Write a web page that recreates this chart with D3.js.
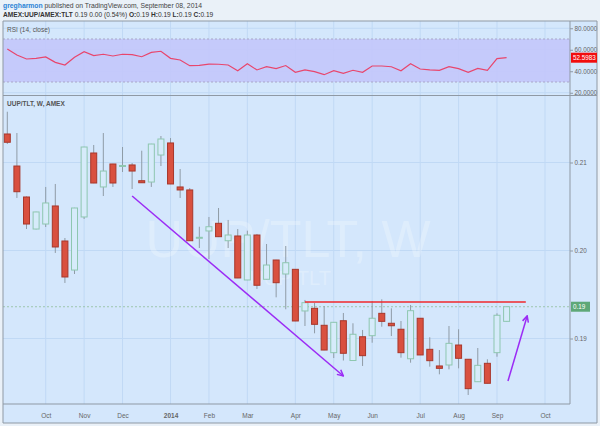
<!DOCTYPE html>
<html><head><meta charset="utf-8">
<script src="https://cdn.jsdelivr.net/npm/d3@7"></script>
<style>body{margin:0;background:#eaf1f8;} svg{display:block;font-family:"Liberation Sans",Arial,sans-serif;}</style>
</head><body><svg id="c" width="600" height="426"></svg>
<script>
// ---- data ----
const dates = ["2013-09-09","2013-09-16","2013-09-23","2013-09-30","2013-10-07","2013-10-14","2013-10-21","2013-10-28",
"2013-11-04","2013-11-11","2013-11-18","2013-11-25","2013-12-02","2013-12-09","2013-12-16","2013-12-23","2013-12-30",
"2014-01-06","2014-01-13","2014-01-20","2014-01-27","2014-02-03","2014-02-10","2014-02-17","2014-02-24",
"2014-03-03","2014-03-10","2014-03-17","2014-03-24","2014-03-31","2014-04-07","2014-04-14","2014-04-21","2014-04-28",
"2014-05-05","2014-05-12","2014-05-19","2014-05-26","2014-06-02","2014-06-09","2014-06-16","2014-06-23","2014-06-30",
"2014-07-07","2014-07-14","2014-07-21","2014-07-28","2014-08-04","2014-08-11","2014-08-18","2014-08-25","2014-09-01","2014-09-08"];
const open  = [0.21324,0.20960,0.20608,0.20244,0.20301,0.20506,0.20108,0.19778,0.20381,0.21108,0.20722,0.20983,0.20960,0.20972,0.20793,0.20778,0.21085,
0.21222,0.20722,0.20688,0.20145,0.20222,0.20309,0.20111,0.20165,0.19665,0.20176,0.19673,0.19892,0.19733,0.19786,0.19313,0.19343,0.19150,
0.18839,0.19202,0.18750,0.19020,0.19032,0.19286,0.19173,0.19105,0.18770,0.19230,0.18877,0.18688,0.18699,0.18926,0.18764,0.18509,0.18718,0.18839,0.19195];
const high  = [0.21577,0.21335,0.20615,0.20440,0.20722,0.20756,0.20142,0.20485,0.21178,0.21199,0.21335,0.20985,0.21176,0.20994,0.21134,0.21212,0.21301,
0.21278,0.20926,0.20710,0.20270,0.20381,0.20483,0.20347,0.20244,0.20225,0.20188,0.20074,0.19894,0.20051,0.19788,0.19438,0.19403,0.19369,
0.19186,0.19290,0.19173,0.19097,0.19426,0.19445,0.19343,0.19199,0.19381,0.19232,0.19014,0.18869,0.19142,0.19105,0.18766,0.18892,0.18764,0.19286,0.19363];
const low   = [0.21210,0.20597,0.20244,0.20240,0.20267,0.19972,0.19631,0.19733,0.20358,0.20765,0.20619,0.20722,0.20892,0.20699,0.20768,0.20722,0.20960,
0.20754,0.20597,0.20110,0.20028,0.19903,0.20153,0.20028,0.19686,0.19663,0.19563,0.19671,0.19468,0.19332,0.19197,0.19142,0.19059,0.18867,
0.18778,0.18750,0.18748,0.18688,0.18952,0.19134,0.19028,0.18782,0.18725,0.18811,0.18680,0.18593,0.18650,0.18661,0.18358,0.18507,0.18489,0.18793,0.19193];
const close = [0.21230,0.20668,0.20301,0.20438,0.20540,0.20040,0.19699,0.20483,0.21176,0.20767,0.20903,0.20767,0.20966,0.20903,0.20770,0.21210,0.21267,
0.20756,0.20688,0.20111,0.20150,0.20270,0.20157,0.20176,0.19688,0.20176,0.19605,0.19835,0.19634,0.19861,0.19199,0.19407,0.19161,0.18869,
0.19184,0.18832,0.19048,0.18805,0.19230,0.19195,0.19145,0.18839,0.19316,0.18813,0.18748,0.18661,0.18945,0.18775,0.18430,0.18695,0.18491,0.19264,0.19361];
const rsi   = [60.7,55.1,51.4,52.0,53.3,48.3,45.8,53.0,58.2,54.5,55.8,54.2,55.8,55.4,53.5,57.6,58.6,
52.0,50.5,45.2,45.5,46.7,46.5,45.8,40.5,47.0,41.2,44.2,42.4,45.3,39.0,41.2,39.6,36.8,
40.5,38.1,40.9,39.0,44.9,44.9,44.2,40.5,47.0,42.1,41.2,40.9,44.2,42.4,39.0,42.7,40.9,51.7,52.6];
const monthTickDates = ["2013-10-07","2013-11-04","2013-12-02","2014-01-06","2014-02-03","2014-03-03","2014-04-07","2014-05-05","2014-06-02","2014-07-07","2014-08-04","2014-09-01","2014-10-06"];
const monthTickLabels = ["Oct","Nov","Dec","2014","Feb","Mar","Apr","May","Jun","Jul","Aug","Sep","Oct"];
const priceTicks = [0.19,0.20,0.21];
const rsiTicks = [20,40,60,80];
const rsiBand = [30,70];
const lastPrice = 0.19361, lastRsiLabel = "52.5983";
const resistance = {from:"2014-04-14", to:"2014-09-22", value:0.19415};
const arrows = [
  {from:["2013-12-09",0.20619], to:["2014-05-12",0.18574]},
  {from:["2014-09-09",0.18517], to:["2014-09-23",0.19256]}
];

// ---- layout ----
const svg = d3.select("#c");
const L=3, R=597, AX=570;
const rsiTop=21, rsiBot=95.5, mainTop=96, mainBot=404, bottom=423;
const panelBg="#d4e7fc", gridC="#c0d9f5", axisC="#8f99a4", textC="#666";
const parse = d3.utcParse("%Y-%m-%d");
const bars = dates.map((d,i)=>({date:parse(d),o:open[i],h:high[i],l:low[i],c:close[i],r:rsi[i]}));

const x = d3.scaleUtc().domain([parse("2013-09-09"),parse("2014-10-06")]).range([7.3,545]);
const y = d3.scaleLinear().domain([0.19,0.21]).range([338.5,162.5]);
const yr = d3.scaleLinear().domain([30,70]).range([82,39]);

svg.append("rect").attr("x",L).attr("y",rsiTop).attr("width",R-L).attr("height",bottom-rsiTop).attr("fill",panelBg);

const defs=svg.append("defs");
defs.append("clipPath").attr("id","mainClip").append("rect").attr("x",L).attr("y",mainTop).attr("width",AX-L).attr("height",mainBot-mainTop);
defs.append("clipPath").attr("id","rsiClip").append("rect").attr("x",L).attr("y",rsiTop).attr("width",AX-L).attr("height",rsiBot-rsiTop);
defs.append("marker").attr("id","ah").attr("viewBox","0 0 10 10").attr("refX",9).attr("refY",5)
  .attr("markerWidth",5).attr("markerHeight",5).attr("orient","auto")
  .append("path").attr("d","M1,1 L9,5 L1,9").attr("fill","none").attr("stroke","#9b2cf5").attr("stroke-width",2);

const tickDates = monthTickDates.map(parse);
const vg = svg.append("g");
tickDates.forEach(d=>{
  vg.append("line").attr("x1",x(d)).attr("x2",x(d)).attr("y1",rsiTop).attr("y2",mainBot).attr("stroke",gridC).attr("stroke-width",1);
});

// RSI panel
const rg = svg.append("g").attr("clip-path","url(#rsiClip)");
rsiTicks.forEach(t=>rg.append("line").attr("x1",L).attr("x2",AX).attr("y1",yr(t)).attr("y2",yr(t)).attr("stroke",gridC));
rg.append("rect").attr("x",L).attr("width",AX-L).attr("y",yr(rsiBand[1])).attr("height",yr(rsiBand[0])-yr(rsiBand[1]))
  .attr("fill","#c3c6fb").attr("opacity",0.9);
rsiBand.forEach(b=>rg.append("line").attr("x1",L).attr("x2",AX).attr("y1",yr(b)).attr("y2",yr(b))
  .attr("stroke","#a9a7c8").attr("stroke-dasharray","2,2"));
rg.append("path").datum(bars).attr("fill","none").attr("stroke","#e8466d").attr("stroke-width",1.2)
  .attr("d",d3.line().x(d=>x(d.date)).y(d=>yr(d.r)));
svg.append("text").attr("x",7).attr("y",32).attr("font-size",6.5).attr("fill","#555").text("RSI (14, close)");

// main panel
const mg = svg.append("g").attr("clip-path","url(#mainClip)");
priceTicks.forEach(t=>mg.append("line").attr("x1",L).attr("x2",AX).attr("y1",y(t)).attr("y2",y(t)).attr("stroke",gridC));
mg.append("text").attr("x",288).attr("y",257).attr("text-anchor","middle").attr("font-size",52)
  .attr("fill","#ffffff").attr("opacity",0.25).text("UUP/TLT, W");
mg.append("text").attr("x",290).attr("y",285).attr("text-anchor","middle").attr("font-size",20)
  .attr("fill","#ffffff").attr("opacity",0.25).text("UUP/TLT");
mg.append("line").attr("x1",L).attr("x2",AX).attr("y1",y(lastPrice)).attr("y2",y(lastPrice))
  .attr("stroke","#8fbf9c").attr("stroke-dasharray","2,2").attr("stroke-width",0.8);
const cg = mg.append("g");
cg.selectAll("line.w").data(bars).join("line").attr("class","w")
  .attr("x1",d=>x(d.date)).attr("x2",d=>x(d.date)).attr("y1",d=>y(d.h)).attr("y2",d=>y(d.l))
  .attr("stroke","#8f9ba6").attr("stroke-width",1);
cg.selectAll("rect.b").data(bars).join("rect").attr("class","b")
  .attr("x",d=>x(d.date)-3).attr("width",6)
  .attr("y",d=>y(Math.max(d.o,d.c)))
  .attr("height",d=>Math.max(1,Math.abs(y(d.o)-y(d.c))))
  .attr("fill",d=>d.c>=d.o?"#d6ebfa":"#d9503f")
  .attr("stroke",d=>d.c>=d.o?"#8ec7b0":"#a8372b").attr("stroke-width",1);
mg.append("line").attr("x1",x(parse(resistance.from))).attr("x2",x(parse(resistance.to)))
  .attr("y1",y(resistance.value)).attr("y2",y(resistance.value)).attr("stroke","#f0282d").attr("stroke-width",1.5);
arrows.forEach(a=>{
  mg.append("line").attr("x1",x(parse(a.from[0]))).attr("y1",y(a.from[1]))
    .attr("x2",x(parse(a.to[0]))).attr("y2",y(a.to[1]))
    .attr("stroke","#9b2cf5").attr("stroke-width",1.5).attr("marker-end","url(#ah)");
});
svg.append("text").attr("x",7).attr("y",106).attr("font-size",6.5).attr("fill","#555").attr("font-weight","bold").text("UUP/TLT, W, AMEX");

// axes
const pa = svg.append("g").attr("transform",`translate(${AX},0)`)
  .call(d3.axisRight(y).tickValues(priceTicks).tickFormat(d3.format(".2f")).tickSize(3).tickPadding(1.5));
const ra = svg.append("g").attr("transform",`translate(${AX},0)`)
  .call(d3.axisRight(yr).tickValues(rsiTicks).tickFormat(d3.format(".4f")).tickSize(3).tickPadding(1.5));
[pa,ra].forEach(g=>{
  g.select(".domain").remove();
  g.selectAll("line").attr("stroke",axisC);
  g.selectAll("text").attr("fill",textC).attr("font-size",6.3).attr("font-family","Liberation Sans, Arial, sans-serif");
});
const xa = svg.append("g").attr("transform",`translate(0,${mainBot})`)
  .call(d3.axisBottom(x).tickValues(tickDates).tickFormat((d,i)=>monthTickLabels[i]).tickSize(0).tickPadding(9));
xa.select(".domain").remove();
xa.selectAll("text").attr("fill",textC).attr("font-size",6.5).attr("font-family","Liberation Sans, Arial, sans-serif")
  .attr("font-weight",(d,i)=>monthTickLabels[i]==="2014"?"bold":"normal");

const fl=(x1,y1,x2,y2)=>svg.append("line").attr("x1",x1).attr("y1",y1).attr("x2",x2).attr("y2",y2).attr("stroke",axisC).attr("stroke-width",1);
fl(L,rsiTop,R,rsiTop); fl(L,rsiBot,R,rsiBot); fl(L,mainBot,AX,mainBot); fl(L,bottom,R,bottom);
fl(L,rsiTop,L,bottom); fl(AX,rsiTop,AX,mainBot); fl(R,rsiTop,R,bottom);

const lab=(yy,w,bg,txt)=>{
  svg.append("rect").attr("x",AX+1).attr("y",yy-5).attr("width",w).attr("height",10).attr("fill",bg);
  svg.append("text").attr("x",AX+3).attr("y",yy+2.3).attr("font-size",6.3).attr("fill","#fff").text(txt);
};
lab(yr(rsi[rsi.length-1]),26,"#f20d0d",lastRsiLabel);
lab(y(lastPrice),19,"#5ea878",d3.format(".2f")(lastPrice));

// header
const h1=svg.append("text").attr("x",3).attr("y",8).attr("font-size",6.8).attr("fill","#444");
h1.append("tspan").attr("fill","#2a83d6").attr("font-weight","bold").text("gregharmon");
h1.append("tspan").text(" published on TradingView.com, September 08, 2014");
const h2=svg.append("text").attr("x",3).attr("y",17).attr("font-size",6.6).attr("fill","#333");
h2.append("tspan").attr("font-weight","bold").text("AMEX:UUP/AMEX:TLT");
h2.append("tspan").text("  0.19 0.00 (0.54%) ");
[["O:","0.19 "],["H:","0.19 "],["L:","0.19 "],["C:","0.19"]].forEach(p=>{
  h2.append("tspan").attr("font-weight","bold").text(p[0]);
  h2.append("tspan").text(p[1]);
});
</script></body></html>
